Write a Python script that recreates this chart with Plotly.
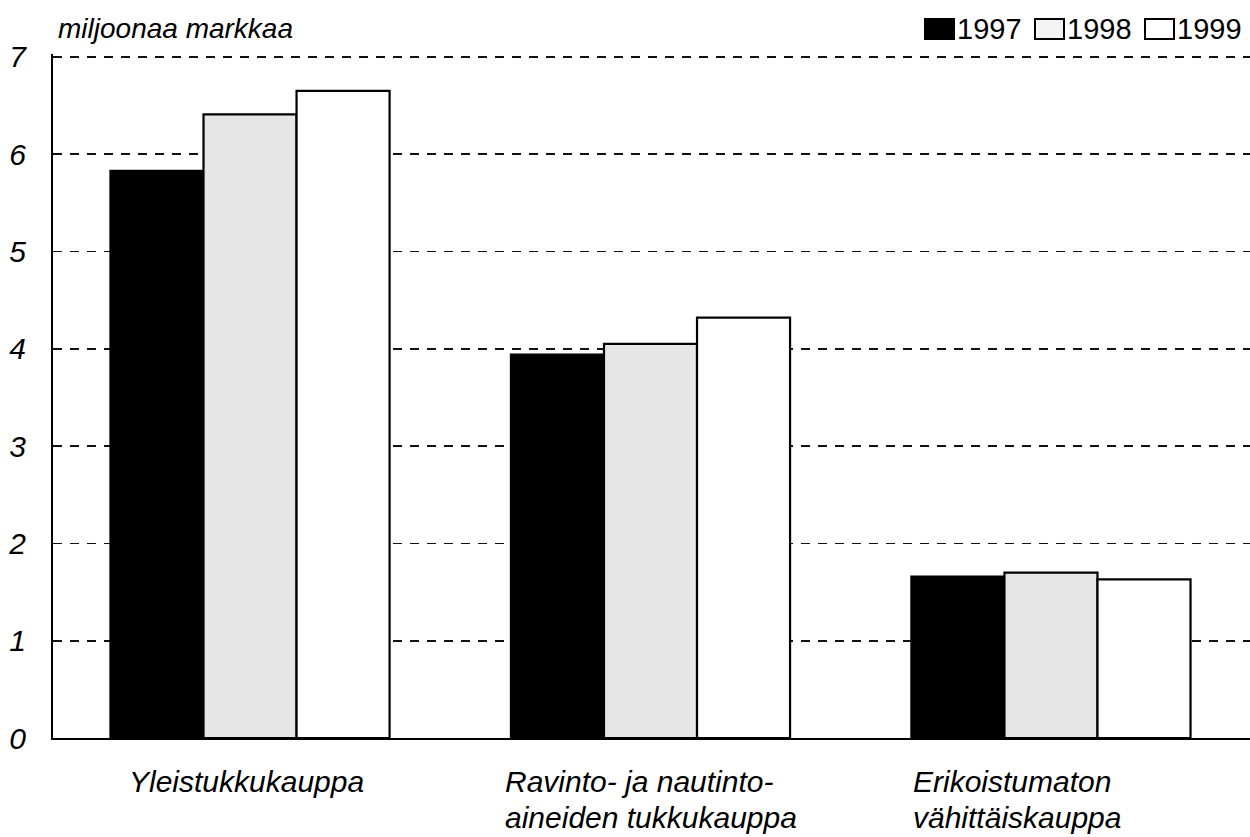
import plotly.graph_objects as go

categories = ["Yleistukkukauppa", "Ravinto- ja nautinto-\naineiden tukkukauppa", "Erikoistumaton\nvähittäiskauppa"]
years = ["1997", "1998", "1999"]
values_1997 = [5.83, 3.94, 1.66]
values_1998 = [6.41, 4.05, 1.70]
values_1999 = [6.65, 4.32, 1.63]
y_ticks = [0, 1, 2, 3, 4, 5, 6, 7]
y_title = "miljoonaa markkaa"

series = [values_1997, values_1998, values_1999]
fills = ["#000000", "#e6e6e6", "#ffffff"]
legend_fills = ["#000000", "#f4f4f4", "#ffffff"]
x_idx = list(range(len(categories)))

FONT = "Liberation Sans, Arial, sans-serif"
W, H = 1250, 837
ML, MR, MT, MB = 53, 0, 54, 99
PW, PH = W - ML - MR, H - MT - MB


def px_x(px):
    return (px - ML) / PW


def px_y(py):
    return (H - MB - py) / PH


fig = go.Figure()
for name, vals, col in zip(years, series, fills):
    fig.add_trace(go.Bar(
        x=x_idx, y=vals, name=name, showlegend=False, hoverinfo="skip",
        marker=dict(color=col, line=dict(color="black", width=2.2)),
    ))

# category labels (left-aligned lines below each group)
label_shift = [-123, -148, -140]
label_size = 30
line_pitch = 36
for i, (cat, dx) in enumerate(zip(categories, label_shift)):
    for j, line in enumerate(cat.split("\n")):
        fig.add_annotation(
            x=i, xref="x", y=0, yref="paper", yanchor="middle", xanchor="left",
            xshift=dx, yshift=-(43 + j * line_pitch), text=line, showarrow=False,
            align="left",
            font=dict(family=FONT, size=label_size, color="black", style="italic"),
        )

# y unit title
fig.add_annotation(
    x=0, xref="paper", y=1, yref="paper", xanchor="left", yanchor="middle",
    xshift=3, yshift=(MT - 28), text=y_title, showarrow=False,
    font=dict(family=FONT, size=28, color="black", style="italic"),
)

# legend drawn as boxes + labels, top right
leg_x0, leg_pitch, box_w, box_top, box_bot = 925, 110, 29, 19, 39
for k, (name, col) in enumerate(zip(years, legend_fills)):
    bx = leg_x0 + k * leg_pitch
    fig.add_shape(
        type="rect", xref="paper", yref="paper",
        x0=px_x(bx), x1=px_x(bx + box_w), y0=px_y(box_bot), y1=px_y(box_top),
        fillcolor=col, line=dict(color="black", width=2),
    )
    fig.add_annotation(
        x=px_x(bx + box_w + 2), xref="paper", y=px_y((box_top + box_bot) / 2),
        yref="paper", xanchor="left", yanchor="middle", text=name, showarrow=False,
        borderpad=0,
        font=dict(family=FONT, size=29, color="black"),
    )

fig.update_layout(
    width=W, height=H,
    margin=dict(l=ML, r=MR, t=MT, b=MB, autoexpand=False),
    paper_bgcolor="white", plot_bgcolor="white",
    barmode="group", bargap=0.303, bargroupgap=0,
    font=dict(family=FONT, color="black"),
    showlegend=False,
    xaxis=dict(
        range=[-0.492, 2.497], showticklabels=False, showgrid=False,
        showline=True, linecolor="black", linewidth=2, ticks="", zeroline=False,
        automargin=False,
    ),
    yaxis=dict(
        range=[0, 7.03], tickvals=y_ticks, ticktext=[str(t) for t in y_ticks],
        showline=True, linecolor="black", linewidth=2, ticks="",
        showgrid=True, gridcolor="#111111", gridwidth=1.6, griddash="9px,8px",
        zeroline=False, ticklabelstandoff=19, automargin=False,
        tickfont=dict(family=FONT, size=30, color="black", style="italic"),
    ),
)

fig.write_html(
    "out.html",
    config={"displayModeBar": False, "staticPlot": True},
    post_script="document.body.style.margin='0';document.body.style.padding='0';",
)
